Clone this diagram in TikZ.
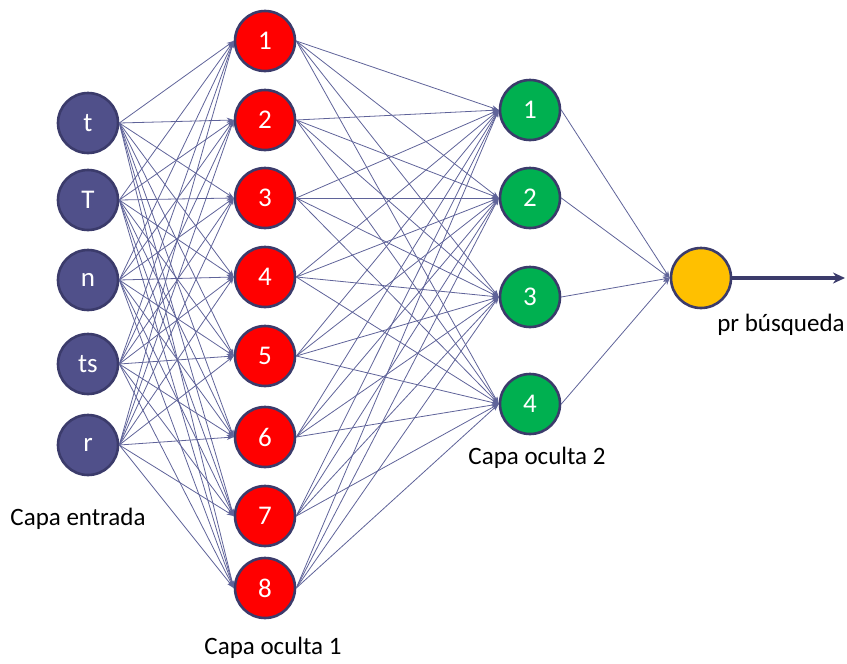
\documentclass[tikz,border=0pt]{standalone}
\usepackage{fontspec}
\setmainfont{Carlito}
\usetikzlibrary{arrows.meta}
\definecolor{nodeline}{HTML}{3B3B6B}
\definecolor{inblue}{HTML}{50508A}
\definecolor{hidred}{HTML}{FF0000}
\definecolor{hidgreen}{HTML}{00B050}
\definecolor{outgold}{HTML}{FFC000}
\definecolor{wire}{HTML}{5F6399}
\begin{document}
\begin{tikzpicture}[x=1pt,y=-1pt,
  every node/.style={font=\fontsize{25}{28}\selectfont},
  neu/.style={circle,draw=nodeline,line width=2.6pt,minimum size=60pt,inner sep=0pt,text=white,
    font=\fontsize{27}{30}\selectfont},
  inp/.style={neu,fill=inblue},h1/.style={neu,fill=hidred},
  h2/.style={neu,fill=hidgreen},res/.style={neu,fill=outgold},
  lab/.style={text=black},
  e/.style={-{Stealth[length=7pt,width=5pt]},line width=0.8pt,draw=wire}]
\useasboundingbox (0,0) rectangle (847,664);
\node[inp] (InT) at (88,123) {t};
\node[inp] (InTT) at (88,200) {T};
\node[inp] (InN) at (88,280) {n};
\node[inp] (InTs) at (88,364) {ts};
\node[inp] (InR) at (88,445) {r};
\node[h1] (H1N1) at (265,41) {1};
\node[h1] (H1N2) at (265,120) {2};
\node[h1] (H1N3) at (265,198) {3};
\node[h1] (H1N4) at (265,277) {4};
\node[h1] (H1N5) at (265,356) {5};
\node[h1] (H1N6) at (265,437) {6};
\node[h1] (H1N7) at (265,516) {7};
\node[h1] (H1N8) at (265,588) {8};
\node[h2] (H2N1) at (530,110) {1};
\node[h2] (H2N2) at (530,198) {2};
\node[h2] (H2N3) at (530,297) {3};
\node[h2] (H2N4) at (530,404) {4};
\node[res] (Out) at (701,278) {};
\coordinate (OutEnd) at (845,278);
\node[lab] (LabIn) at (78,519) {Capa entrada};
\node[lab] (LabH1) at (273,648) {Capa oculta 1};
\node[lab] (LabH2) at (537,458) {Capa oculta 2};
\node[lab] (LabOut) at (781,325) {pr búsqueda};
% entrada -> oculta 1
\draw[e] (InT.east) -- (H1N1.west);
\draw[e] (InT.east) -- (H1N2.west);
\draw[e] (InT.east) -- (H1N3.west);
\draw[e] (InT.east) -- (H1N4.west);
\draw[e] (InT.east) -- (H1N5.west);
\draw[e] (InT.east) -- (H1N6.west);
\draw[e] (InT.east) -- (H1N7.west);
\draw[e] (InT.east) -- (H1N8.west);
\draw[e] (InTT.east) -- (H1N1.west);
\draw[e] (InTT.east) -- (H1N2.west);
\draw[e] (InTT.east) -- (H1N3.west);
\draw[e] (InTT.east) -- (H1N4.west);
\draw[e] (InTT.east) -- (H1N5.west);
\draw[e] (InTT.east) -- (H1N6.west);
\draw[e] (InTT.east) -- (H1N7.west);
\draw[e] (InTT.east) -- (H1N8.west);
\draw[e] (InN.east) -- (H1N1.west);
\draw[e] (InN.east) -- (H1N2.west);
\draw[e] (InN.east) -- (H1N3.west);
\draw[e] (InN.east) -- (H1N4.west);
\draw[e] (InN.east) -- (H1N5.west);
\draw[e] (InN.east) -- (H1N6.west);
\draw[e] (InN.east) -- (H1N7.west);
\draw[e] (InN.east) -- (H1N8.west);
\draw[e] (InTs.east) -- (H1N1.west);
\draw[e] (InTs.east) -- (H1N2.west);
\draw[e] (InTs.east) -- (H1N3.west);
\draw[e] (InTs.east) -- (H1N4.west);
\draw[e] (InTs.east) -- (H1N5.west);
\draw[e] (InTs.east) -- (H1N6.west);
\draw[e] (InTs.east) -- (H1N7.west);
\draw[e] (InTs.east) -- (H1N8.west);
\draw[e] (InR.east) -- (H1N1.west);
\draw[e] (InR.east) -- (H1N2.west);
\draw[e] (InR.east) -- (H1N3.west);
\draw[e] (InR.east) -- (H1N4.west);
\draw[e] (InR.east) -- (H1N5.west);
\draw[e] (InR.east) -- (H1N6.west);
\draw[e] (InR.east) -- (H1N7.west);
\draw[e] (InR.east) -- (H1N8.west);
% oculta 1 -> oculta 2
\draw[e] (H1N1.east) -- (H2N1.west);
\draw[e] (H1N1.east) -- (H2N2.west);
\draw[e] (H1N1.east) -- (H2N3.west);
\draw[e] (H1N1.east) -- (H2N4.west);
\draw[e] (H1N2.east) -- (H2N1.west);
\draw[e] (H1N2.east) -- (H2N2.west);
\draw[e] (H1N2.east) -- (H2N3.west);
\draw[e] (H1N2.east) -- (H2N4.west);
\draw[e] (H1N3.east) -- (H2N1.west);
\draw[e] (H1N3.east) -- (H2N2.west);
\draw[e] (H1N3.east) -- (H2N3.west);
\draw[e] (H1N3.east) -- (H2N4.west);
\draw[e] (H1N4.east) -- (H2N1.west);
\draw[e] (H1N4.east) -- (H2N2.west);
\draw[e] (H1N4.east) -- (H2N3.west);
\draw[e] (H1N4.east) -- (H2N4.west);
\draw[e] (H1N5.east) -- (H2N1.west);
\draw[e] (H1N5.east) -- (H2N2.west);
\draw[e] (H1N5.east) -- (H2N3.west);
\draw[e] (H1N5.east) -- (H2N4.west);
\draw[e] (H1N6.east) -- (H2N1.west);
\draw[e] (H1N6.east) -- (H2N2.west);
\draw[e] (H1N6.east) -- (H2N3.west);
\draw[e] (H1N6.east) -- (H2N4.west);
\draw[e] (H1N7.east) -- (H2N1.west);
\draw[e] (H1N7.east) -- (H2N2.west);
\draw[e] (H1N7.east) -- (H2N3.west);
\draw[e] (H1N7.east) -- (H2N4.west);
\draw[e] (H1N8.east) -- (H2N1.west);
\draw[e] (H1N8.east) -- (H2N2.west);
\draw[e] (H1N8.east) -- (H2N3.west);
\draw[e] (H1N8.east) -- (H2N4.west);
% oculta 2 -> salida
\draw[e] (H2N1.east) -- (Out.west);
\draw[e] (H2N2.east) -- (Out.west);
\draw[e] (H2N3.east) -- (Out.west);
\draw[e] (H2N4.east) -- (Out.west);
\draw[-{Stealth[length=12pt,width=11pt]},line width=4.5pt,draw=nodeline] (Out.east) -- (OutEnd);
\end{tikzpicture}
\end{document}
